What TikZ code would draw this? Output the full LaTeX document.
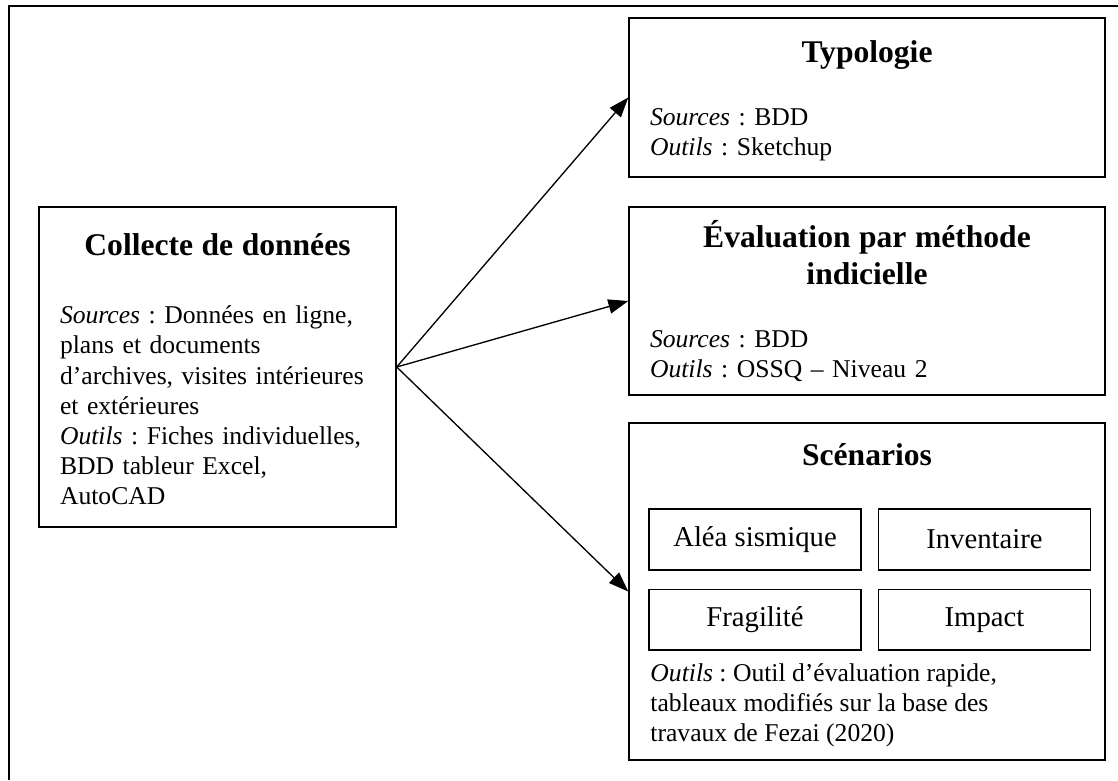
\documentclass[tikz,border=0pt]{standalone}
\usepackage{fontspec}
\setmainfont{Liberation Serif}
\usetikzlibrary{arrows.meta,positioning}
\setlength{\parindent}{0pt}
\frenchspacing
\newcommand\boxbody{\fontsize{11.6}{13.6}\selectfont\frenchspacing}
\newcommand\boxhead{\fontsize{14.3}{16.75}\selectfont\bfseries}
\newcommand\boxsub{\fontsize{13}{15}\selectfont}
% struts: top of the heading line and bottom of the last line
\newcommand\topstrut[1]{\rule{0pt}{#1}}
\newcommand\botstrut{\rule[-3pt]{0pt}{3pt}}
\tikzset{
  basebox/.style={rectangle,draw=black,line width=0.7pt,inner xsep=9.5pt,inner ysep=0pt,font=\boxbody,align=left},
  collbox/.style={basebox,text width=142.6pt,minimum height=144.9pt},
  stepbox/.style={basebox,text width=196.5pt,minimum width=215.5pt},
  subbox/.style={rectangle,draw=black,line width=0.7pt,minimum width=96pt,minimum height=27.4pt,inner sep=0pt,font=\boxsub},
  plaintext/.style={inner sep=0pt,font=\boxbody,align=left},
  arr/.style={-{Triangle[length=9pt,width=6.5pt]},line width=0.6pt},
  frame/.style={line width=1pt}
}

\begin{document}
\begin{tikzpicture}[x=0.4528pt,y=-0.4528pt]
  \useasboundingbox (0,0) rectangle (1118,780);
  \draw[frame] (9,780) |- (1118,6);

  \node[collbox] (coll) at (217.5,367)
      {{\centering\boxhead\topstrut{14.8pt}Collecte de données\par}\vspace{17.2pt}
       \textit{Sources} : Données en ligne,\\
       plans et documents\\
       d'archives, visites intérieures\\
       et extérieures\\
       \textit{Outils} : Fiches individuelles,\\
       BDD tableur Excel,\\
       AutoCAD\botstrut};

  \node[stepbox,minimum height=72pt] (typo) at (867,97.5)
      {{\centering\boxhead\topstrut{13.4pt}Typologie\par}\vspace{14.5pt}
       \textit{Sources} : BDD\\
       \textit{Outils} : Sketchup\botstrut};

  \node[stepbox,minimum height=85.1pt] (eval) at (867,301)
      {{\centering\boxhead\topstrut{13.4pt}Évaluation par méthode\\indicielle\par}\vspace{14.5pt}
       \textit{Sources} : BDD\\
       \textit{Outils} : OSSQ -- Niveau 2\botstrut};

  \node[stepbox,minimum height=152.6pt] (scen) at (867,591.5) {};
  \node[font=\boxhead,anchor=base,inner sep=0pt] (scenT) at (867,465) {Scénarios};
  \node[subbox] (alea) at (755,539.5) {Aléa sismique};
  \node[subbox,right=7.2pt of alea] (inv) {Inventaire};
  \node[subbox,below=8.2pt of alea] (frag) {Fragilité};
  \node[subbox,below=8.2pt of inv] (imp) {Impact};
  \node[plaintext,anchor=north west] (scenOut) at (650,663)
      {\textit{Outils} : Outil d'évaluation rapide,\\
       tableaux modifiés sur la base des\\
       travaux de Fezai (2020)};

  \draw[arr] (coll.east) -- (typo.west);
  \draw[arr] (coll.east) -- (eval.west);
  \draw[arr] (coll.east) -- (scen.west);
\end{tikzpicture}
\end{document}
